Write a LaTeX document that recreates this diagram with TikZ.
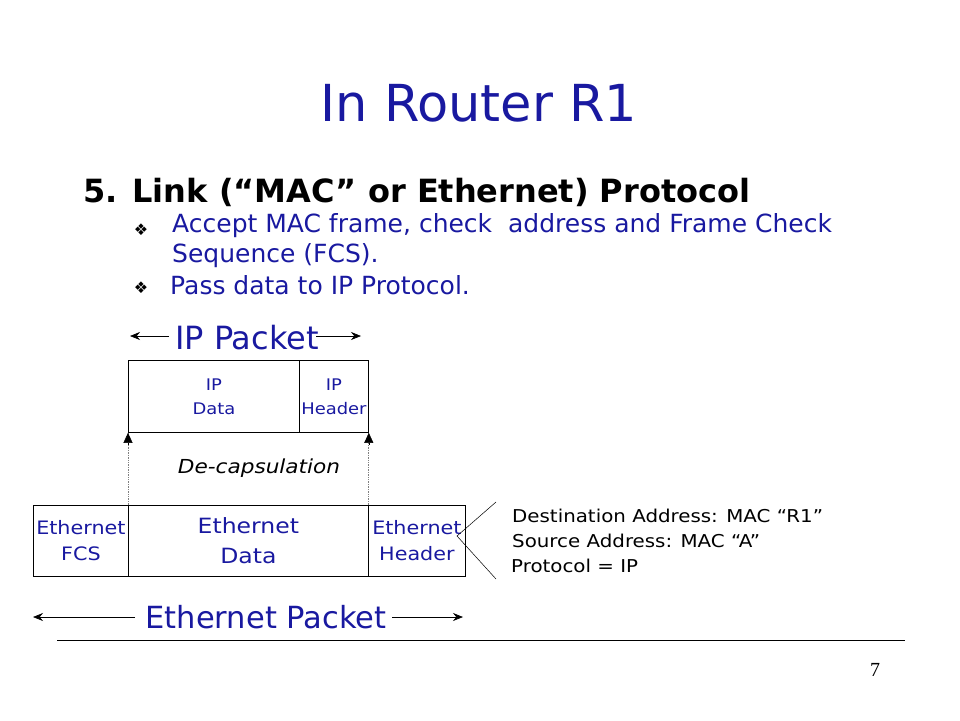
\documentclass[tikz,border=0pt]{standalone}
\usepackage{fontspec}
\setmainfont{DejaVu Sans}
\newfontfamily\wfont[FakeStretch=1.12]{DejaVu Sans}
\newfontfamily\serifnum{Liberation Serif}
\usetikzlibrary{arrows.meta}
\definecolor{cblue}{RGB}{25,25,160}
\begin{document}
\begin{tikzpicture}[x=1pt,y=-1pt,
  blue txt/.style={text=cblue, inner sep=0pt},
  blk txt/.style={text=black, inner sep=0pt},
  cell/.style={draw=black, line width=0.8pt, inner sep=0pt},
  dim arrow/.style={-{Stealth[length=10pt,width=8pt]}, line width=0.7pt},
  dot link/.style={densely dotted, gray, line width=0.7pt},
  up tip/.style={-{Triangle[length=10pt,width=9pt]}, black, line width=0.5pt},
]
\useasboundingbox (0,0) rectangle (960,720);
% title
\node[blue txt, font=\fontsize{51}{56}\selectfont] (title) at (479,103) {In Router R1};
% heading
\node[blk txt, anchor=west, font=\bfseries\fontsize{32}{36}\selectfont] (head) at (83,192) {5. Link (“MAC” or Ethernet) Protocol};
% bullets
\node[blk txt, font=\fontsize{16}{17}\selectfont] (b1) at (141,230) {❖};
\node[blk txt, font=\fontsize{16}{17}\selectfont] (b2) at (141,288) {❖};
\node[blue txt, anchor=west, font=\fontsize{25}{28}\selectfont] (t1) at (172,226) {Accept MAC frame, check~ address and Frame Check};
\node[blue txt, anchor=west, font=\fontsize{25}{28}\selectfont] (t2) at (172,256) {Sequence (FCS).};
\node[blue txt, anchor=west, font=\fontsize{25}{28}\selectfont] (t3) at (170,285) {Pass data to IP Protocol.};
% IP packet label
\node[blue txt, font=\fontsize{32}{36}\selectfont] (ippk) at (247,338) {IP Packet};
\coordinate (ipL) at (130,336);
\coordinate (ipR) at (361,336);
\coordinate (ipl0) at (169,336);
\coordinate (ipr0) at (316,336);
\draw[dim arrow] (ipl0) -- (ipL);
\draw[dim arrow] (ipr0) -- (ipR);
% IP box
\node[cell, minimum width=171pt, minimum height=72pt, anchor=north west] (ipdata) at (128,360) {};
\node[cell, minimum width=69pt, minimum height=72pt, anchor=north west] (iphdr) at (299,360) {};
\node[blue txt, align=center, font=\wfont\fontsize{16}{24}\selectfont] at (ipdata.center) {IP\\Data};
\node[blue txt, align=center, font=\wfont\fontsize{16}{24}\selectfont] at (iphdr.center) {IP\\Header};
% Ethernet box
\node[cell, minimum width=95pt, minimum height=71pt, anchor=north west] (efcs) at (33,505) {};
\node[cell, minimum width=240pt, minimum height=71pt, anchor=north west] (edata) at (128,505) {};
\node[cell, minimum width=97pt, minimum height=71pt, anchor=north west] (ehdr) at (368,505) {};
\node[blue txt, align=center, font=\wfont\fontsize{18.5}{26}\selectfont] at (efcs.center) {Ethernet\\FCS};
\node[blue txt, align=center, font=\wfont\fontsize{21}{30}\selectfont] at (edata.center) {Ethernet\\Data};
\node[blue txt, align=center, font=\wfont\fontsize{18.5}{26}\selectfont] at (ehdr.center) {Ethernet\\Header};
% de-capsulation arrows
\draw[dot link] (edata.north west) -- (ipdata.south west);
\draw[dot link] (edata.north east) -- (iphdr.south east);
\draw[up tip] (ipdata.south west) ++(0,12) -- (ipdata.south west);
\draw[up tip] (iphdr.south east) ++(0,12) -- (iphdr.south east);
\node[blk txt, font=\wfont\itshape\fontsize{19.3}{22}\selectfont] (decap) at (259,468) {De-capsulation};
% header detail
\coordinate (apex) at (457,536);
\coordinate (topend) at (496,502);
\coordinate (botend) at (496,579);
\draw[line width=0.5pt] (topend) -- (apex) -- (botend);
\node[blk txt, anchor=west, font=\wfont\fontsize{17.7}{20}\selectfont] (d1) at (512,516) {Destination Address: MAC “R1”};
\node[blk txt, anchor=west, font=\wfont\fontsize{17.7}{20}\selectfont] (d2) at (512,541) {Source Address: MAC “A”};
\node[blk txt, anchor=west, font=\wfont\fontsize{17.7}{20}\selectfont] (d3) at (511,566) {Protocol = IP};
% Ethernet packet label
\node[blue txt, font=\fontsize{30.5}{34}\selectfont] (ethpk) at (266,617) {Ethernet Packet};
\coordinate (ethL) at (33,617);
\coordinate (ethR) at (463,617);
\coordinate (el0) at (135,617);
\coordinate (er0) at (392,617);
\draw[dim arrow] (el0) -- (ethL);
\draw[dim arrow] (er0) -- (ethR);
% footer
\coordinate (rl) at (57,640);
\coordinate (rr) at (905,640);
\draw[line width=0.8pt] (rl) -- (rr);
\node[blk txt, font=\serifnum\fontsize{20}{22}\selectfont] (pg) at (875,670) {7};
\end{tikzpicture}
\end{document}
